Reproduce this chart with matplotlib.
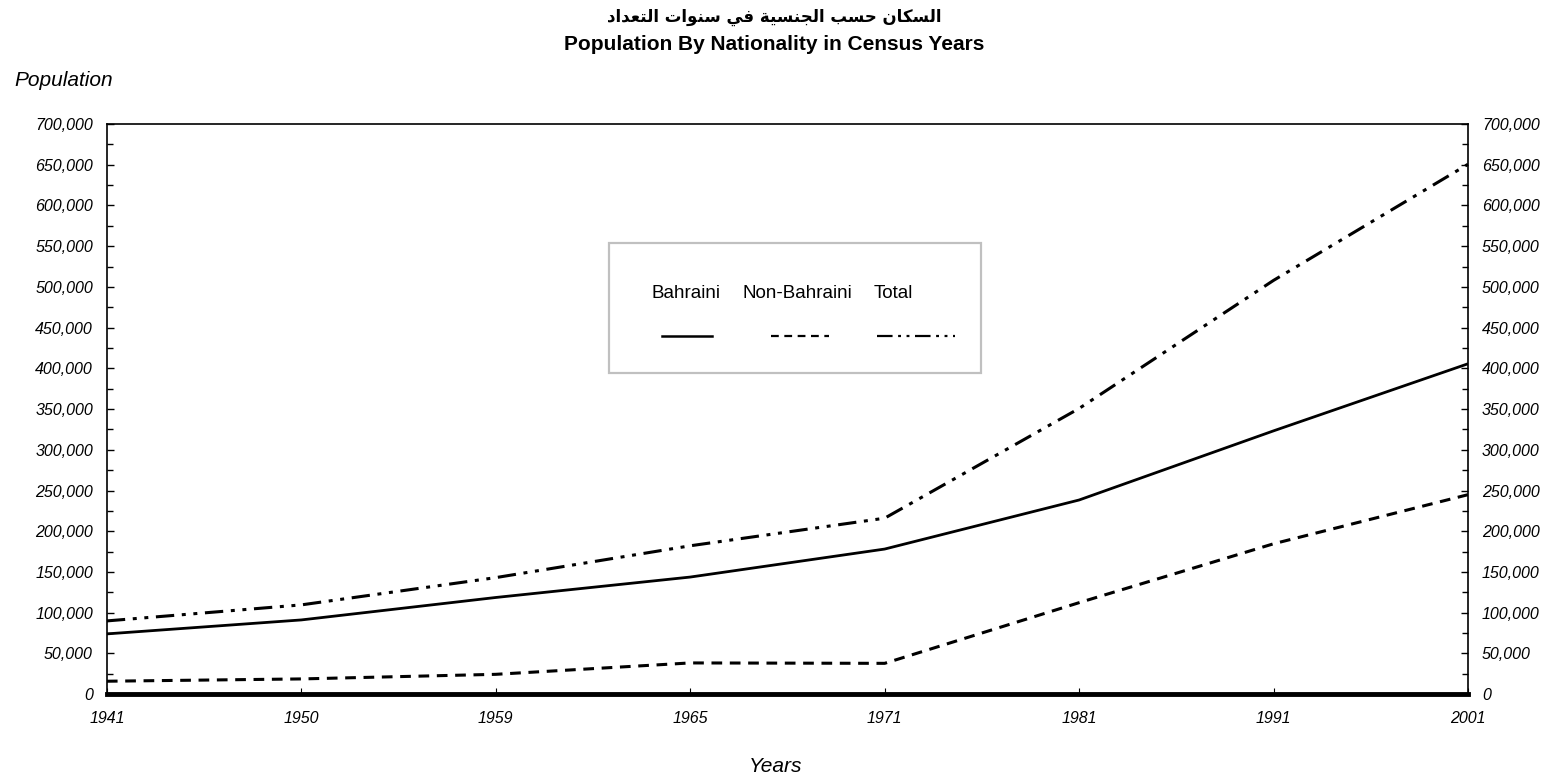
import matplotlib
matplotlib.use("Agg")
import matplotlib.pyplot as plt
from matplotlib.ticker import MultipleLocator, FuncFormatter
from matplotlib.lines import Line2D
from matplotlib.patches import Rectangle

years = ["1941", "1950", "1959", "1965", "1971", "1981", "1991", "2001"]
bahraini = [74040, 91179, 118734, 143814, 178193, 238420, 323305, 405667]
non_bahraini = [15930, 18756, 24401, 38389, 37885, 112378, 184665, 244937]
total = [89970, 109650, 143135, 182203, 216078, 350798, 508037, 650604]

title_ar = "السكان حسب الجنسية في سنوات التعداد"
title_en = "Population By Nationality in Census Years"

# presentation forms: iso, fin, ini, med (right-joining letters only have iso, fin)
FORMS = {
    "ا": (0xFE8D, 0xFE8E), "ب": (0xFE8F, 0xFE90, 0xFE91, 0xFE92),
    "ة": (0xFE93, 0xFE94), "ت": (0xFE95, 0xFE96, 0xFE97, 0xFE98),
    "ج": (0xFE9D, 0xFE9E, 0xFE9F, 0xFEA0), "ح": (0xFEA1, 0xFEA2, 0xFEA3, 0xFEA4),
    "د": (0xFEA9, 0xFEAA), "س": (0xFEB1, 0xFEB2, 0xFEB3, 0xFEB4),
    "ع": (0xFEC9, 0xFECA, 0xFECB, 0xFECC), "ف": (0xFED1, 0xFED2, 0xFED3, 0xFED4),
    "ك": (0xFED9, 0xFEDA, 0xFEDB, 0xFEDC), "ل": (0xFEDD, 0xFEDE, 0xFEDF, 0xFEE0),
    "ن": (0xFEE5, 0xFEE6, 0xFEE7, 0xFEE8), "و": (0xFEED, 0xFEEE),
    "ي": (0xFEF1, 0xFEF2, 0xFEF3, 0xFEF4),
}


def shape_arabic(s):
    out = []
    for i, ch in enumerate(s):
        f = FORMS.get(ch)
        if f is None:
            out.append(ch)
            continue
        prev = s[i - 1] if i > 0 else " "
        nxt = s[i + 1] if i < len(s) - 1 else " "
        pj = prev in FORMS and len(FORMS[prev]) == 4
        nj = len(f) == 4 and nxt in FORMS
        if pj and nj:
            out.append(chr(f[3]))
        elif pj:
            out.append(chr(f[1]))
        elif nj:
            out.append(chr(f[2]))
        else:
            out.append(chr(f[0]))
    return "".join(out)[::-1]


fam = ["Liberation Sans", "DejaVu Sans"]
plt.rcParams["font.family"] = fam

fig = plt.figure(figsize=(15.49, 7.8), dpi=100)
ax = fig.add_axes([0.069, 0.11, 0.8787, 0.731])

x = list(range(len(years)))
ax.plot(x, bahraini, color="black", lw=2.0, solid_capstyle="butt")
ax.plot(x, non_bahraini, color="black", lw=2.2, dashes=(3.5, 2.5))
ax.plot(x, total, color="black", lw=2.2, dashes=(6, 2.5, 1.3, 2.5, 1.3, 2.5))

ax.set_xlim(0, len(years) - 1)
ax.set_ylim(0, 700000)
ax.set_xticks(x)
ax.set_xticklabels(years, fontsize=11.5, style="italic")
ax.yaxis.set_major_locator(MultipleLocator(50000))
ax.yaxis.set_minor_locator(MultipleLocator(25000))
ax.yaxis.set_major_formatter(FuncFormatter(lambda v, p: f"{int(v):,}"))
ax.tick_params(axis="y", which="both", direction="in", left=True, right=True,
               labelleft=True, labelright=True, labelsize=11.5, width=1)
ax.tick_params(axis="y", which="major", length=5, pad=10)
ax.tick_params(axis="y", which="minor", length=4)
ax.tick_params(axis="x", direction="in", length=4, pad=12)
for lab in ax.get_yticklabels():
    lab.set_style("italic")
for sp in ["left", "right", "top"]:
    ax.spines[sp].set_linewidth(1.2)
ax.spines["bottom"].set_linewidth(3.5)

fig.text(0.5, 1 - 17 / 780, shape_arabic(title_ar), ha="center", va="center",
         fontsize=12, fontweight="bold", family=["DejaVu Sans"])
fig.text(0.5, 1 - 45 / 780, title_en, ha="center", va="center", fontsize=15,
         fontweight="bold")
fig.text(14 / 1549, 1 - 80 / 780, "Population", ha="left", va="center",
         fontsize=15, style="italic")
fig.text(776 / 1549, 1 - 767 / 780, "Years", ha="center", va="center",
         fontsize=15, style="italic")

# legend box drawn by hand: labels above their line samples
W, H = 1549, 780
box = Rectangle((609 / W, 1 - 373 / H), 372 / W, 130 / H, transform=fig.transFigure,
                facecolor="white", edgecolor="#c0c0c0", lw=1.6, zorder=5)
fig.add_artist(box)
labels = ["Bahraini", "Non-Bahraini", "Total"]
styles = [dict(lw=1.8), dict(lw=1.6, dashes=(3.5, 2.5)),
          dict(lw=1.6, dashes=(7, 2.5, 1.3, 2.5, 1.3, 2.5))]
lab_x = [686, 797, 893]
line_x = [(662, 712), (771, 829), (877, 955)]
for lab, lx, (x0, x1), st in zip(labels, lab_x, line_x, styles):
    fig.text(lx / W, 1 - 293 / H, lab, ha="center", va="center", fontsize=13.5,
             zorder=6)
    fig.add_artist(Line2D([x0 / W, x1 / W], [1 - 336 / H] * 2, color="black",
                          transform=fig.transFigure, zorder=6, **st))

fig.savefig("out.png", dpi=100)
